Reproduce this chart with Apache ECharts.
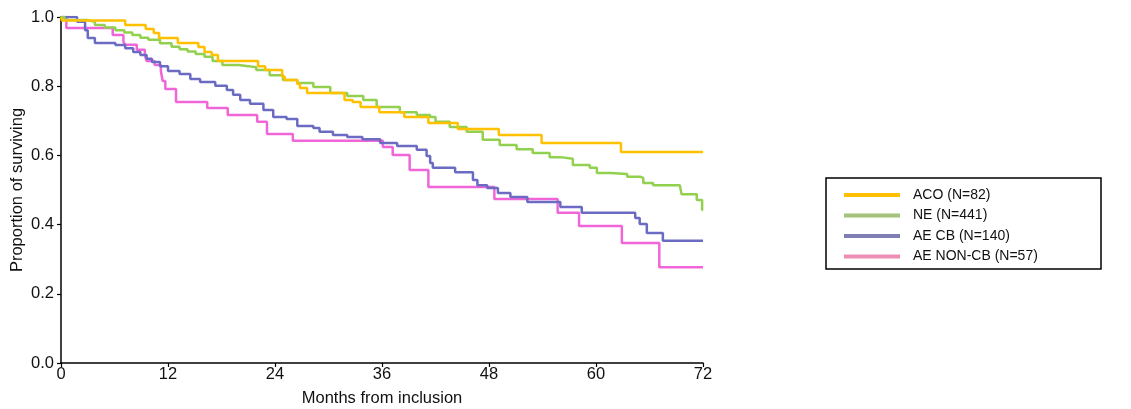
<!DOCTYPE html>
<html>
<head>
<meta charset="utf-8">
<script src="https://cdn.jsdelivr.net/npm/echarts@6/dist/echarts.min.js"></script>
<style>html,body{margin:0;padding:0;background:#fff}#c{width:1131px;height:409px}</style>
</head>
<body>
<div id="c"></div>
<script>
// Kaplan-Meier step points [month, proportion surviving]
const aco = [[0,1.0],[0.1,0.99],[7.2,0.977],[9.5,0.965],[10.4,0.954],[11.0,0.939],[13.1,0.925],[15.4,0.913],[16.1,0.899],[16.9,0.89],[17.6,0.873],[22.1,0.858],[22.9,0.847],[24.8,0.827],[25.1,0.818],[26.5,0.806],[26.8,0.795],[27.6,0.78],[31.8,0.76],[32.7,0.754],[33.6,0.74],[35.7,0.725],[38.5,0.711],[41.2,0.694],[44.5,0.676],[49.1,0.659],[53.9,0.636],[62.8,0.61],[72,0.61]];
const ne = [[0,1.0],[0.4,0.991],[3.0,0.986],[3.8,0.977],[4.9,0.970],[6.1,0.962],[7.1,0.955],[8.0,0.948],[8.9,0.940],[9.8,0.934],[11.1,0.924],[12.4,0.914],[13.3,0.907],[14.2,0.900],[15.1,0.893],[16.1,0.885],[17.0,0.873],[18.1,0.861],[19.9,0.858],[21.0,0.855],[21.9,0.847],[23.4,0.832],[24.9,0.818],[26.5,0.809],[28.3,0.798],[30.2,0.780],[32.1,0.772],[33.9,0.760],[35.4,0.740],[38.0,0.725],[39.9,0.717],[41.4,0.711],[42.0,0.697],[43.6,0.682],[45.5,0.668],[47.3,0.645],[49.2,0.630],[51.1,0.618],[52.9,0.607],[54.8,0.595],[56.0,0.590],[57.4,0.572],[59.3,0.564],[60.1,0.549],[61.6,0.546],[63.5,0.538],[65.0,0.535],[65.3,0.520],[66.4,0.514],[69.4,0.509],[69.6,0.488],[71.3,0.471],[71.9,0.442],[72,0.442]];
const aeCb = [[0,1.0],[1.8,0.986],[2.7,0.962],[3.0,0.939],[3.8,0.925],[6.1,0.919],[7.2,0.910],[8.1,0.899],[8.9,0.890],[9.6,0.879],[10.2,0.870],[11.1,0.858],[12.0,0.844],[13.3,0.835],[14.5,0.821],[15.6,0.812],[17.3,0.801],[18.6,0.789],[19.3,0.775],[20.1,0.760],[21.2,0.749],[22.7,0.731],[23.8,0.711],[25.3,0.705],[26.5,0.685],[28.3,0.679],[29.0,0.668],[30.5,0.659],[32.1,0.653],[33.8,0.647],[35.8,0.636],[37.7,0.627],[39.9,0.616],[41.0,0.598],[41.4,0.578],[41.7,0.564],[44.2,0.551],[46.2,0.529],[46.7,0.514],[47.8,0.506],[49.0,0.491],[50.4,0.480],[52.3,0.465],[56.0,0.451],[58.4,0.434],[64.4,0.419],[64.9,0.402],[65.7,0.376],[67.5,0.353],[72,0.353]];
const aeNonCb = [[0,1.0],[0.6,0.968],[5.8,0.948],[7.0,0.928],[7.2,0.920],[8.5,0.905],[9.4,0.890],[9.6,0.873],[10.5,0.861],[11.2,0.844],[11.4,0.815],[11.7,0.792],[12.9,0.754],[16.4,0.737],[18.7,0.717],[22.0,0.697],[23.1,0.662],[26.0,0.642],[36.1,0.624],[37.2,0.601],[39.1,0.558],[41.2,0.509],[48.6,0.474],[55.7,0.434],[58.1,0.396],[62.9,0.347],[67.1,0.277],[72,0.277]];

const seriesNames = ['ACO (N=82)','NE (N=441)','AE CB (N=140)','AE NON-CB (N=57)'];
const xTicks = [0,12,24,36,48,60,72];
const yTicks = [0,0.2,0.4,0.6,0.8,1.0];

const lineColors = ['#FFC000','#92D050','#6B6BC4','#F066D8'];
const legendColors = ['#FFC000','#A3C27A','#7F7FB3','#EE8DB5'];
const datasets = [aco, ne, aeCb, aeNonCb];

const chart = echarts.init(document.getElementById('c'));
const axisText = {color:'#111', fontSize:16.5, fontFamily:'Liberation Sans, Arial, sans-serif'};
chart.setOption({
  animation:false,
  backgroundColor:'#fff',
  grid:{left:61, right:428, top:17, bottom:46, containLabel:false, outerBoundsMode:'none'},
  xAxis:{
    type:'value', min:xTicks[0], max:xTicks[xTicks.length-1], interval:12,
    name:'Months from inclusion', nameLocation:'middle', nameGap:27, nameMoveOverlap:false,
    nameTextStyle:axisText,
    axisLine:{show:true, lineStyle:{color:'#000', width:1.5}},
    axisTick:{show:true, length:4, lineStyle:{color:'#000', width:1.2}},
    axisLabel:Object.assign({margin:3}, axisText),
    splitLine:{show:false}
  },
  yAxis:{
    type:'value', min:yTicks[0], max:yTicks[yTicks.length-1], interval:0.2,
    name:'Proportion of surviving', nameLocation:'middle', nameGap:35, nameMoveOverlap:false,
    nameTextStyle:axisText,
    axisLine:{show:true, lineStyle:{color:'#000', width:1.5}},
    axisTick:{show:true, length:4, lineStyle:{color:'#000', width:1.2}},
    axisLabel:Object.assign({margin:7, formatter:v=>v.toFixed(1)}, axisText),
    splitLine:{show:false}
  },
  legend:{
    orient:'vertical', left:839, top:180,
    icon:'rect', itemWidth:56, itemHeight:4, itemGap:0.5,
    textStyle:{fontSize:14, color:'#111', fontFamily:'Liberation Sans, Arial, sans-serif', lineHeight:20, padding:[0,0,0,8]},
    data: seriesNames.map((n,i)=>({name:n, itemStyle:{color:legendColors[i]}}))
  },
  graphic:[{type:'rect', shape:{x:826, y:178, width:275, height:91}, style:{fill:'none', stroke:'#000', lineWidth:1.5}, silent:true}],
  series: datasets.map((d,i)=>({
    name:seriesNames[i], type:'line', step:'end', data:d, showSymbol:false, symbol:'none',
    lineStyle:{color:lineColors[i], width:2.5}, itemStyle:{color:lineColors[i]}, z:10-i
  }))
});
</script>
</body>
</html>
